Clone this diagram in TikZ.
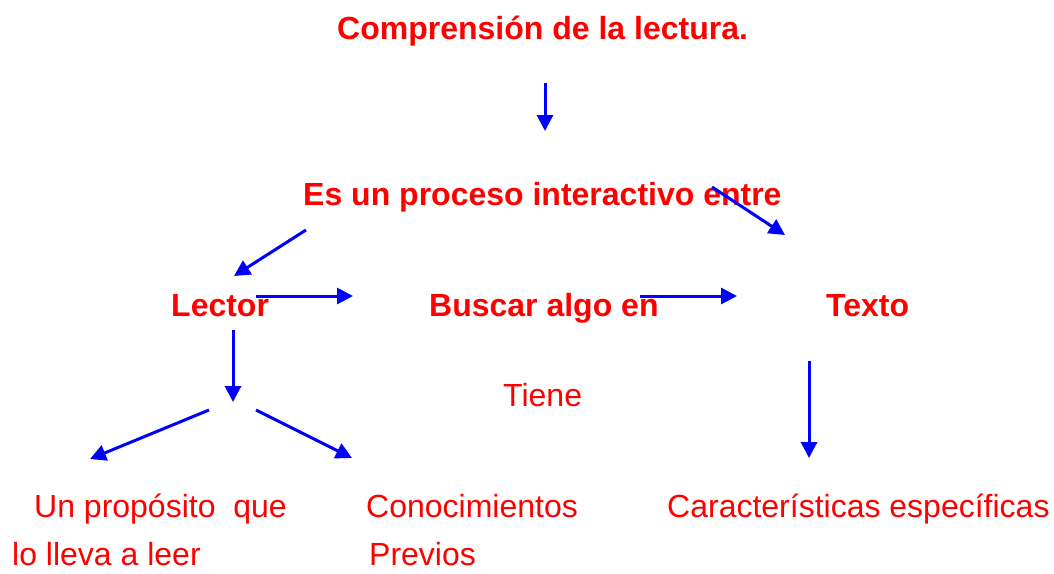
\documentclass[tikz,border=0pt]{standalone}
\usepackage{fontspec}
\setmainfont{Liberation Sans}
\usetikzlibrary{arrows.meta}
\begin{document}
\begin{tikzpicture}[x=1pt,y=-1pt,
  lbl/.style={inner sep=0pt,anchor=base west,text=red,font=\fontsize{32}{38}\selectfont},
  blbl/.style={lbl,font=\fontsize{32}{38}\selectfont\bfseries},
  arr/.style={draw=blue,line width=3pt,-{Triangle[length=16pt,width=16pt]}}]
\useasboundingbox (0,0) rectangle (1054,573);
\node[blbl] (title) at (337,39) {Comprensión de la lectura.};
\node[blbl] (proc) at (303,205) {Es un proceso interactivo entre};
\node[blbl] (lector) at (171,316) {Lector};
\node[blbl] (buscar) at (429,316) {Buscar algo en};
\node[blbl] (texto) at (826,316) {Texto};
\node[lbl] (tiene) at (503,406) {Tiene};
\node[lbl] (prop1) at (34,517) {Un propósito\ \ que};
\node[lbl] (prop2) at (12,565) {lo lleva a leer};
\node[lbl] (con1) at (366,517) {Conocimientos};
\node[lbl] (con2) at (369,565) {Previos};
\node[lbl] (car) at (667,517) {Características específicas};
% arrow end points
\coordinate (a1s) at (545,83);  \coordinate (a1e) at (545,131);
\coordinate (a2s) at (306,230); \coordinate (a2e) at (234,276);
\coordinate (a3s) at (712,187); \coordinate (a3e) at (785,235);
\coordinate (a4s) at (256,296); \coordinate (a4e) at (353,296);
\coordinate (a5s) at (640,296); \coordinate (a5e) at (737,296);
\coordinate (a6s) at (233,330); \coordinate (a6e) at (233,402);
\coordinate (a7s) at (209,410); \coordinate (a7e) at (90,459);
\coordinate (a8s) at (256,410); \coordinate (a8e) at (352,458);
\coordinate (a9s) at (809,361); \coordinate (a9e) at (809,458);
\foreach \i in {1,...,9} { \draw[arr] (a\i s) -- (a\i e); }
\end{tikzpicture}
\end{document}
